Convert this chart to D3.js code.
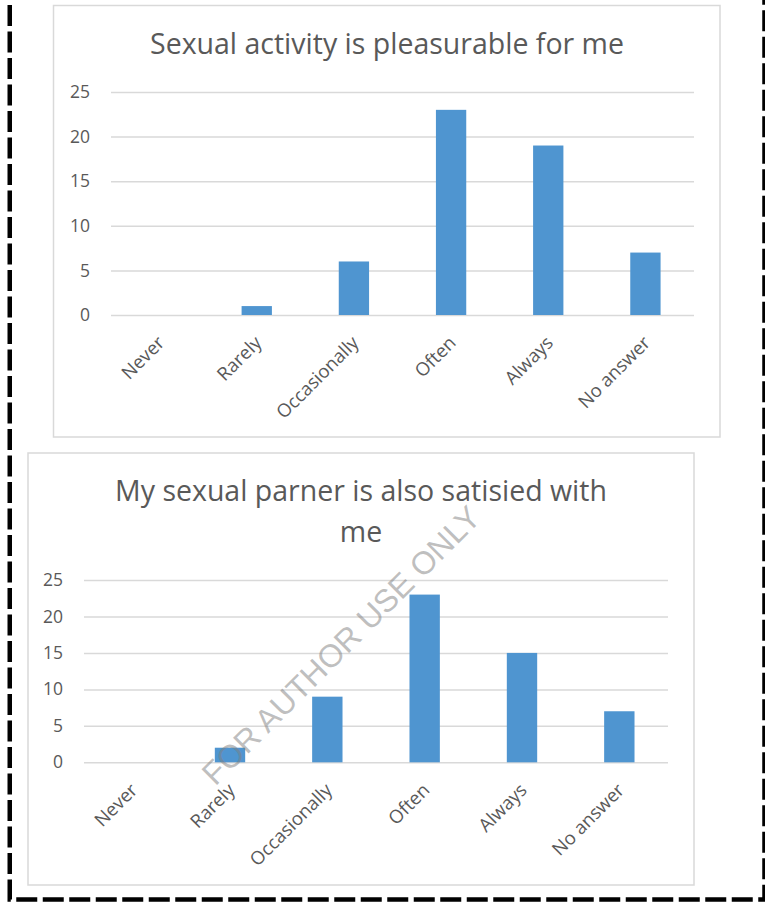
<!DOCTYPE html>
<html><head><meta charset="utf-8">
<script src="https://cdn.jsdelivr.net/npm/d3@7"></script>
<style>body{margin:0;background:#fff}</style>
</head><body>
<script>
// Survey answers shared by both charts
const categories = ["Never", "Rarely", "Occasionally", "Often", "Always", "No answer"];
// "Sexual activity is pleasurable for me"
const pleasureCounts = [0, 1, 6, 23, 19, 7];
// "My sexual parner is also satisied with me"
const partnerCounts = [0, 2, 9, 23, 15, 7];
const yTicks = [0, 5, 10, 15, 20, 25];
const titleOne = ["Sexual activity is pleasurable for me"];
const titleTwo = ["My sexual parner is also satisied with", "me"];
const watermark = "FOR AUTHOR USE ONLY";

const W = 765, H = 902;
const FONT = "'Open Sans', 'Noto Sans', sans-serif";
const TEXT = "#595959", GRID = "#d9d9d9", BAR = "#4f95d0";

const svg = d3.select("body").append("svg")
  .attr("width", W).attr("height", H)
  .style("display", "block");

function drawChart(cfg) {
  const g = svg.append("g");
  // chart frame
  g.append("rect")
    .attr("x", cfg.box[0]).attr("y", cfg.box[1])
    .attr("width", cfg.box[2] - cfg.box[0]).attr("height", cfg.box[3] - cfg.box[1])
    .attr("fill", "#fff").attr("stroke", GRID).attr("stroke-width", 1.5);

  // title lines
  g.append("text")
    .attr("x", cfg.titleX).attr("y", cfg.titleY)
    .attr("text-anchor", "middle")
    .attr("font-family", FONT).attr("font-size", 28.5).attr("fill", TEXT)
    .selectAll("tspan").data(cfg.title).join("tspan")
    .attr("x", cfg.titleX).attr("dy", (d, i) => i ? 40.5 : 0)
    .text(d => d);

  const x = d3.scaleBand().domain(categories)
    .range([cfg.plot[0], cfg.plot[1]])
    .paddingInner(0.688).paddingOuter(0.344);
  const y = d3.scaleLinear().domain([0, 25]).range([cfg.plot[2], cfg.plot[3]]);

  // horizontal gridlines with value labels
  const yAxis = d3.axisLeft(y).tickValues(yTicks)
    .tickSize(-(cfg.plot[1] - cfg.plot[0])).tickPadding(cfg.plot[0] - cfg.labelRight);
  const ya = g.append("g").attr("transform", `translate(${cfg.plot[0]},0)`).call(yAxis);
  ya.select(".domain").remove();
  ya.selectAll(".tick line").attr("stroke", GRID).attr("stroke-width", 1.5);
  ya.selectAll(".tick text")
    .attr("font-family", FONT).attr("font-size", 17.5).attr("fill", TEXT);

  // bars
  g.append("g").selectAll("rect").data(cfg.values).join("rect")
    .attr("x", (d, i) => x(categories[i]))
    .attr("width", x.bandwidth())
    .attr("y", d => y(d))
    .attr("height", d => y(0) - y(d))
    .attr("fill", BAR);

  // slanted category labels
  const xAxis = d3.axisBottom(x).tickSize(0).tickPadding(0);
  const xa = g.append("g").attr("transform", `translate(0,${y(0)})`).call(xAxis);
  xa.select(".domain").remove();
  xa.selectAll(".tick text")
    .attr("font-family", FONT).attr("font-size", 18.5).attr("fill", TEXT)
    .attr("text-anchor", "end").attr("dy", 0).attr("y", 0)
    .attr("transform", "translate(6,29) rotate(-45)");
}

drawChart({
  box: [53.5, 5.5, 720, 437],
  plot: [111, 694, 315, 92],
  labelRight: 90,
  title: titleOne, titleX: 387, titleY: 54,
  values: pleasureCounts
});

drawChart({
  box: [28, 453, 694, 885],
  plot: [84, 668, 762.3, 580],
  labelRight: 63,
  title: titleTwo, titleX: 361, titleY: 501,
  values: partnerCounts
});

// page watermark laid over the charts
svg.append("text")
  .attr("transform", "translate(349,653) rotate(-45)")
  .attr("text-anchor", "middle")
  .attr("font-family", "'Liberation Sans', Arial, sans-serif")
  .attr("font-size", 32)
  .attr("fill", "#7f7f7f").attr("fill-opacity", 0.5)
  .text(watermark);

// dashed page border (left, bottom and right sides)
svg.append("path")
  .attr("d", "M9.75,5 V899.5 H764.5 V-30")
  .attr("fill", "none").attr("stroke", "#000")
  .attr("stroke-width", 4.5)
  .attr("stroke-dasharray", "21,5.5");
</script>
</body></html>
